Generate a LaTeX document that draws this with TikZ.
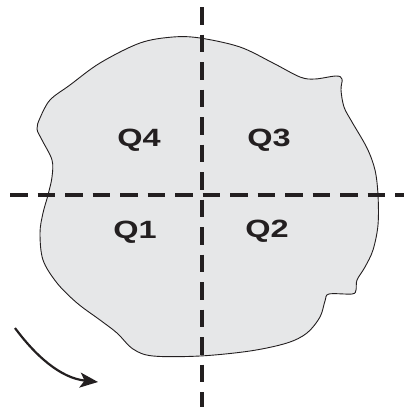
\documentclass[tikz,border=0pt]{standalone}
\usepackage{fontspec}
\setmainfont{Liberation Sans}
\usetikzlibrary{arrows.meta}
\definecolor{blobfill}{HTML}{E6E7E8}
\definecolor{ink}{HTML}{231F20}
\begin{document}
\begin{tikzpicture}[x=1pt,y=-1pt,
  axis/.style={ink,line width=3.2pt,dash pattern=on 17.5pt off 10pt},
  qlabel/.style={ink,font=\fontsize{25}{25}\selectfont\bfseries,inner sep=0pt},
  blob/.style={draw=ink,line width=0.9pt,fill=blobfill}]
\useasboundingbox (0,0) rectangle (404,407);
\draw[blob] plot[smooth cycle,tension=0.55] coordinates {
(200,38) (240,47) (273,63) (300,77) (315,79) (336,76) (342,79) (341,90)
(344,107) (352,122) (367,148) (375,170) (378,195) (378,225) (373,250)
(365,267) (357,280) (356,290) (352,294) (329,294) (325,301) (320,317)
(307,333) (287,343) (250,351) (200,356) (153,356) (133,349) (117,333)
(100,320) (77,303) (57,283) (43,260) (40,233) (43,213) (48,195) (52,177)
(52,160) (42,140) (37,129) (40,118) (50,100) (70,85) (100,63) (140,43) (173,37)};
\coordinate (hL) at (10,195);
\coordinate (hR) at (404,195);
\coordinate (vT) at (202,7);
\coordinate (vB) at (202,407);
\draw[axis] (hL) -- (hR);
\draw[axis] (vT) -- (vB);
\node[qlabel] (q4) at (139,140) {\scalebox{1.3}[1]{Q4}};
\node[qlabel] (q3) at (269,140) {\scalebox{1.3}[1]{Q3}};
\node[qlabel] (q1) at (135,232) {\scalebox{1.3}[1]{Q1}};
\node[qlabel] (q2) at (267,231) {\scalebox{1.3}[1]{Q2}};
\coordinate (aS) at (15,328);
\coordinate (aE) at (98,382);
\draw[ink,line width=2.2pt,-{Stealth[length=18pt,width=15pt,inset=4.5pt]}]
  (aS) .. controls (35,355) and (60,378) .. (aE);
\end{tikzpicture}
\end{document}
